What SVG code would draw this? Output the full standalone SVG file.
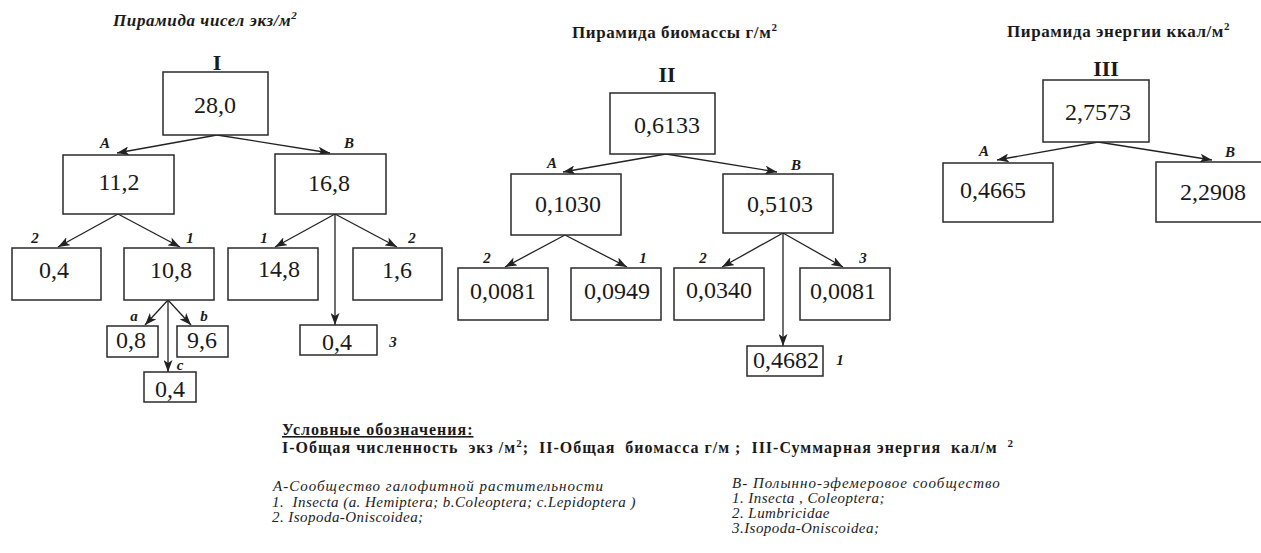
<svg xmlns="http://www.w3.org/2000/svg" width="1261" height="553" viewBox="0 0 1261 553">
<style>
text{font-family:'Liberation Serif','Times New Roman','DejaVu Serif',serif}
.box{fill:#fff;stroke:#2a2a2a;stroke-width:1.5}
.num{font-size:24px;fill:#1a1a1a;text-anchor:middle}
.lbl{font-size:15px;font-weight:bold;font-style:italic;fill:#1a1a1a;text-anchor:middle}
.rom{font-size:22px;font-weight:bold;fill:#1a1a1a;text-anchor:middle}
.ttl{font-size:17px;font-weight:bold;fill:#1a1a1a;letter-spacing:0.6px}
.leg{font-size:16px;font-weight:bold;fill:#1a1a1a;white-space:pre;letter-spacing:1px}
.it{font-size:15px;font-style:italic;fill:#222;white-space:pre;letter-spacing:0.45px}
.cy{letter-spacing:1px}
.sup{font-size:11px}
.conn line{stroke:#222;stroke-width:1.3;marker-end:url(#ah)}
</style>
<defs>
<marker id="ah" markerUnits="userSpaceOnUse" markerWidth="13" markerHeight="9" refX="12" refY="4.5" orient="auto">
<path d="M0,0 L12,4.5 L0,9 L3,4.5 z" fill="#222"/>
</marker>
</defs>
<rect width="1261" height="553" fill="#fff"/>

<text class="ttl" x="113" y="26" style="font-style:italic">Пирамида чисел экз/м<tspan class="sup" dy="-7">2</tspan></text>
<text class="ttl" x="572" y="38">Пирамида биомассы г/м<tspan class="sup" dy="-7">2</tspan></text>
<text class="ttl" x="1007" y="37">Пирамида энергии ккал/м<tspan class="sup" dy="-7">2</tspan></text>
<text class="rom" x="217" y="70">I</text>
<text class="rom" x="667" y="82">II</text>
<text class="rom" x="1106" y="76">III</text>

<g class="conn" id="connectors">
<line x1="217" y1="135" x2="117" y2="153"/>
<line x1="217" y1="135" x2="330" y2="153"/>
<line x1="118" y1="214" x2="58" y2="247"/>
<line x1="118" y1="214" x2="180" y2="247"/>
<line x1="335" y1="214" x2="275" y2="247"/>
<line x1="335" y1="214" x2="397" y2="247"/>
<line x1="335" y1="214" x2="335" y2="325"/>
<line x1="168" y1="300" x2="145" y2="325"/>
<line x1="168" y1="300" x2="191" y2="325"/>
<line x1="168" y1="300" x2="168" y2="372"/>
<line x1="666" y1="154" x2="563" y2="172"/>
<line x1="666" y1="154" x2="777" y2="172"/>
<line x1="565" y1="235" x2="505" y2="267"/>
<line x1="565" y1="235" x2="627" y2="267"/>
<line x1="783" y1="233" x2="722" y2="267"/>
<line x1="783" y1="233" x2="843" y2="267"/>
<line x1="783" y1="233" x2="783" y2="346"/>
<line x1="1098" y1="142" x2="997" y2="160"/>
<line x1="1098" y1="142" x2="1212" y2="160"/>
</g>

<g id="n-28-0"><rect class="box" x="163" y="72" width="105" height="63"/><text class="num" x="215" y="113">28,0</text></g>
<g id="n-11-2"><rect class="box" x="63" y="155" width="111" height="59"/><text class="num" x="119" y="190">11,2</text></g>
<g id="n-16-8"><rect class="box" x="275" y="154" width="111" height="60"/><text class="num" x="329" y="191">16,8</text></g>
<g id="n-0-4a"><rect class="box" x="12" y="248" width="89" height="52"/><text class="num" x="54" y="278">0,4</text></g>
<g id="n-10-8"><rect class="box" x="124" y="248" width="90" height="52"/><text class="num" x="171" y="278">10,8</text></g>
<g id="n-14-8"><rect class="box" x="228" y="248" width="90" height="52"/><text class="num" x="279" y="277">14,8</text></g>
<g id="n-1-6"><rect class="box" x="353" y="248" width="89" height="52"/><text class="num" x="397" y="278">1,6</text></g>
<g id="n-0-4b"><rect class="box" x="300" y="325" width="77" height="30"/><text class="num" x="337" y="350">0,4</text></g>
<g id="n-0-8"><rect class="box" x="107" y="326" width="51" height="31"/><text class="num" x="131" y="348">0,8</text></g>
<g id="n-9-6"><rect class="box" x="177" y="326" width="51" height="31"/><text class="num" x="202" y="348">9,6</text></g>
<g id="n-0-4c"><rect class="box" x="144" y="372" width="52" height="30"/><text class="num" x="170" y="397">0,4</text></g>
<g id="labels-I">
<text class="lbl" x="105" y="148">A</text>
<text class="lbl" x="349" y="148">B</text>
<text class="lbl" x="35" y="243">2</text>
<text class="lbl" x="190" y="243">1</text>
<text class="lbl" x="264" y="243">1</text>
<text class="lbl" x="412" y="243">2</text>
<text class="lbl" x="134" y="321">a</text>
<text class="lbl" x="204" y="321">b</text>
<text class="lbl" x="180" y="370">c</text>
<text class="lbl" x="393" y="347">3</text>
</g>

<g id="n-0-6133"><rect class="box" x="610" y="93" width="105" height="61"/><text class="num" x="667" y="133">0,6133</text></g>
<g id="n-0-1030"><rect class="box" x="511" y="174" width="110" height="61"/><text class="num" x="568" y="212">0,1030</text></g>
<g id="n-0-5103"><rect class="box" x="723" y="174" width="110" height="59"/><text class="num" x="780" y="212">0,5103</text></g>
<g id="n-0-0081a"><rect class="box" x="458" y="268" width="90" height="52"/><text class="num" x="503" y="299">0,0081</text></g>
<g id="n-0-0949"><rect class="box" x="571" y="268" width="90" height="52"/><text class="num" x="617" y="299">0,0949</text></g>
<g id="n-0-0340"><rect class="box" x="674" y="268" width="90" height="52"/><text class="num" x="719" y="298">0,0340</text></g>
<g id="n-0-0081b"><rect class="box" x="800" y="268" width="90" height="52"/><text class="num" x="843" y="299">0,0081</text></g>
<g id="n-0-4682"><rect class="box" x="747" y="346" width="76" height="30"/><text class="num" x="786" y="368">0,4682</text></g>
<g id="labels-II">
<text class="lbl" x="552" y="168">A</text>
<text class="lbl" x="796" y="170">B</text>
<text class="lbl" x="487" y="263">2</text>
<text class="lbl" x="643" y="263">1</text>
<text class="lbl" x="703" y="263">2</text>
<text class="lbl" x="863" y="263">3</text>
<text class="lbl" x="840" y="365">1</text>
</g>

<g id="n-2-7573"><rect class="box" x="1043" y="80" width="106" height="62"/><text class="num" x="1098" y="120">2,7573</text></g>
<g id="n-0-4665"><rect class="box" x="943" y="163" width="110" height="59"/><text class="num" x="993" y="198">0,4665</text></g>
<g id="n-2-2908"><rect class="box" x="1156" y="162" width="110" height="60"/><text class="num" x="1213" y="200">2,2908</text></g>
<g id="labels-III">
<text class="lbl" x="984" y="156">A</text>
<text class="lbl" x="1230" y="157">B</text>
</g>

<g id="legend">
<text class="leg" x="282" y="435" text-decoration="underline">Условные обозначения:</text>
<text class="leg" x="282" y="453">I-Общая численность  экз /м<tspan class="sup" dy="-6">2</tspan><tspan dy="6">;  II-Общая  биомасса г/м ;  III-Суммарная энергия  кал/м  </tspan><tspan class="sup" dy="-6">2</tspan></text>
<text class="it cy" x="273" y="491">А-Сообщество галофитной растительности</text>
<text class="it" x="272" y="507">1.  Insecta (a. Hemiptera; b.Coleoptera; c.Lepidoptera )</text>
<text class="it" x="272" y="522">2. Isopoda-Oniscoidea;</text>
<text class="it cy" x="732" y="488">В- Полынно-эфемеровое сообщество</text>
<text class="it" x="732" y="503">1. Insecta , Coleoptera;</text>
<text class="it" x="732" y="518">2. Lumbricidae</text>
<text class="it" x="732" y="533">3.Isopoda-Oniscoidea;</text>
</g>
</svg>
